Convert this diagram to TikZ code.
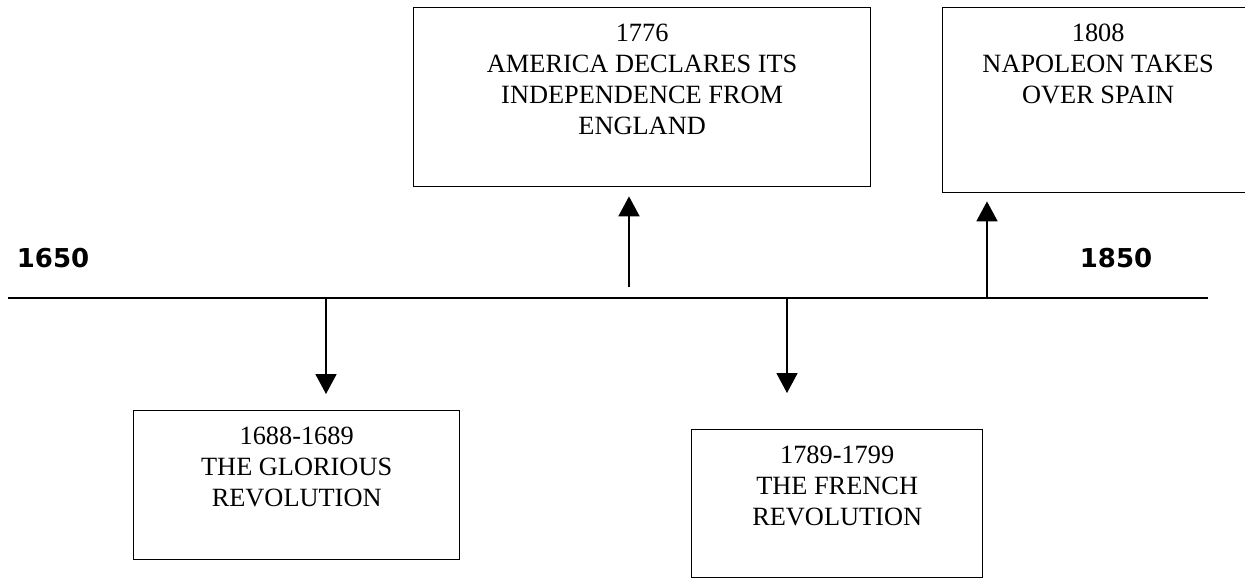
\documentclass[tikz,border=0pt]{standalone}
\usepackage{fontspec}
\setmainfont{Liberation Serif}
\newfontfamily\yearfont{DejaVu Sans}
\usetikzlibrary{arrows.meta}
\tikzstyle{event} = [rectangle, draw=black, line width=0.8pt, inner sep=0pt, anchor=north west]
\tikzstyle{eventtext} = [align=center, inner sep=0pt, anchor=north, font=\fontsize{15}{17.5}\selectfont]
\tikzstyle{year} = [font=\yearfont\bfseries\fontsize{14.8}{16}\selectfont]
\tikzstyle{timeline} = [line width=1.3pt]
\tikzstyle{arrow} = [line width=1pt, -{Triangle[width=0.42cm, length=0.4cm]}]

\begin{document}
\begin{tikzpicture}[x=0.02cm, y=-0.02cm]
\useasboundingbox (0,0) rectangle (1245,579);
\clip (0,0) rectangle (1245,579);
\coordinate (start) at (8,298);
\coordinate (end) at (1208,298);
\coordinate (t1688) at (326,298);
\coordinate (t1776) at (629,298);
\coordinate (t1789) at (787,298);
\coordinate (t1808) at (987,298);
\node (y1650) [year] at (53,258) {1650};
\node (y1850) [year] at (1116,258) {1850};
\node (glorious) [event, minimum width=6.52cm, minimum height=2.98cm] at (133,410) {};
\node (america) [event, minimum width=9.14cm, minimum height=3.58cm] at (413,7) {};
\node (french) [event, minimum width=5.82cm, minimum height=2.96cm] at (691,429) {};
\node (napoleon) [event, minimum width=6.22cm, minimum height=3.7cm] at (942,7) {};
\node (gloriousText) [eventtext, yshift=-0.34cm] at (glorious.north) {1688-1689\\THE GLORIOUS\\REVOLUTION};
\node (americaText) [eventtext, yshift=-0.34cm] at (america.north) {1776\\AMERICA DECLARES ITS\\INDEPENDENCE FROM\\ENGLAND};
\node (frenchText) [eventtext, yshift=-0.34cm] at (french.north) {1789-1799\\THE FRENCH\\REVOLUTION};
\node (napoleonText) [eventtext, yshift=-0.34cm] at (napoleon.north) {1808\\NAPOLEON TAKES\\OVER SPAIN};
\draw [timeline] (start) -- (end);
\draw [arrow, shorten >=0.32cm] (t1688) -- (t1688 |- glorious.north);
\draw [arrow, shorten <=0.22cm, shorten >=0.18cm] (t1776) -- (t1776 |- america.south);
\draw [arrow, shorten >=0.72cm] (t1789) -- (t1789 |- french.north);
\draw [arrow, shorten >=0.16cm] (t1808) -- (t1808 |- napoleon.south);
\end{tikzpicture}
\end{document}
